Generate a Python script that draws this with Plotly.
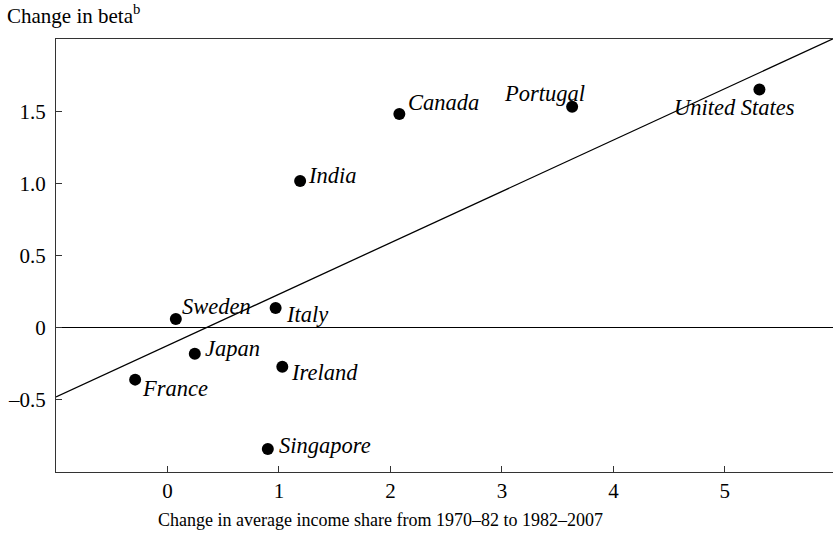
import plotly.graph_objects as go

countries = ["France", "Sweden", "Japan", "Italy", "Ireland", "Singapore",
             "India", "Canada", "Portugal", "United States"]
income_share_change = [-0.29, 0.075, 0.245, 0.97, 1.03, 0.90, 1.19, 2.08, 3.63, 5.31]
beta_change = [-0.36, 0.06, -0.18, 0.136, -0.27, -0.84, 1.016, 1.48, 1.53, 1.65]

fit_x = [-1.0, 6.0]
fit_intercept = -0.124
fit_slope = 0.356
fit_y = [fit_intercept + fit_slope * v for v in fit_x]

x_ticks = [0, 1, 2, 3, 4, 5]
x_ticktext = ["0", "1", "2", "3", "4", "5"]
y_ticks = [-0.5, 0, 0.5, 1.0, 1.5]
y_ticktext = ["\u20130.5", "0", "0.5", "1.0", "1.5"]

# label placement (pixel offsets from the dot, anchor)
label_pos = {
    "France": (5, -9, "left"),
    "Sweden": (4, 13, "left"),
    "Japan": (8, 5, "left"),
    "Italy": (8, -6, "left"),
    "Ireland": (7, -5.5, "left"),
    "Singapore": (9, 3, "left"),
    "India": (6, 6, "left"),
    "Canada": (7, 12, "left"),
    "Portugal": (15, 13.5, "right"),
    "United States": (38, -18, "right"),
}

SERIF = "Liberation Serif"
tick_font = dict(family=SERIF, size=21, color="black")

fig = go.Figure()
fig.add_trace(go.Scatter(x=fit_x, y=fit_y, mode="lines",
                         line=dict(color="black", width=1.3),
                         hoverinfo="skip", showlegend=False))
fig.add_trace(go.Scatter(x=income_share_change, y=beta_change, mode="markers",
                         marker=dict(color="black", size=12),
                         text=countries, showlegend=False))

for c, xv, yv in zip(countries, income_share_change, beta_change):
    dx, dy, anc = label_pos[c]
    fig.add_annotation(x=xv, y=yv, text="<i>" + c + "</i>", showarrow=False,
                       xanchor=anc, yanchor="middle", xshift=dx, yshift=dy,
                       font=dict(family=SERIF, size=22.5, color="black"))

fig.add_annotation(xref="paper", yref="paper", x=0, y=1, xshift=-51, yshift=25,
                   xanchor="left", yanchor="middle", showarrow=False,
                   text="Change in beta<sup>b</sup>",
                   font=dict(family=SERIF, size=21, color="black"))

fig.add_annotation(xref="paper", yref="paper", x=0.417, y=0, yshift=-48,
                   xanchor="center", yanchor="middle", showarrow=False,
                   text="Change in average income share from 1970\u201382 to 1982\u20132007",
                   font=dict(family=SERIF, size=18, color="black"))

fig.update_layout(
    width=833, height=534,
    margin=dict(l=56, r=0, t=39, b=62, autoexpand=False),
    plot_bgcolor="white", paper_bgcolor="white",
    font=dict(family=SERIF, size=19, color="black"),
    xaxis=dict(range=[-1, 5.97], tickvals=x_ticks, ticktext=x_ticktext,
               tickfont=tick_font,
               showgrid=False, zeroline=False, showline=True, linecolor="#333",
               linewidth=1.3, mirror=True, ticks="inside", ticklen=6,
               tickcolor="#333", ticklabelstandoff=0, automargin=False),
    yaxis=dict(range=[-1, 2], tickvals=y_ticks, ticktext=y_ticktext,
               tickfont=tick_font,
               showgrid=False, zeroline=True, zerolinecolor="black", zerolinewidth=1.2,
               showline=True, linecolor="#333", linewidth=1.3, mirror=False,
               ticks="inside", ticklen=6, tickcolor="#333", ticklabelstandoff=5,
               automargin=False),
)

fig.write_html("out.html", post_script="document.body.style.margin='0';",
               config={"displayModeBar": False})
